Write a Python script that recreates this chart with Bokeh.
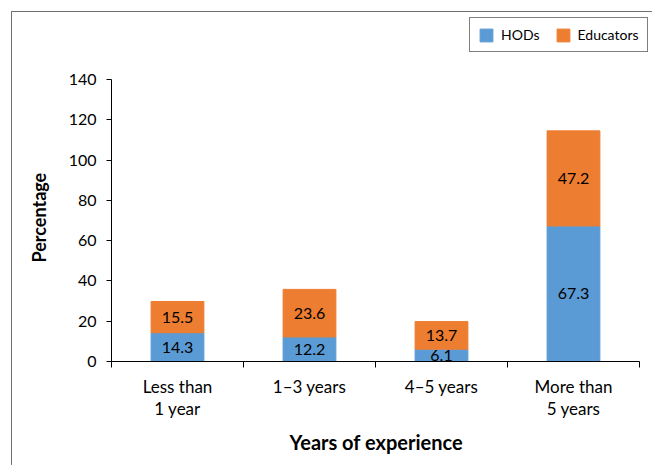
from bokeh.plotting import figure
from bokeh.models import (ColumnDataSource, Range1d, FixedTicker, Legend, LegendItem, LabelSet, Title)
from bokeh.core.properties import value
from bokeh.embed import file_html
from bokeh.resources import INLINE

categories = ["Less than\n1 year", "1\u20133 years", "4\u20135 years", "More than\n5 years"]
hods = [14.3, 12.2, 6.1, 67.3]
educators = [15.5, 23.6, 13.7, 47.2]
y_ticks = [0, 20, 40, 60, 80, 100, 120, 140]

FONT = "Lato"
BLUE = "#5B9BD5"
ORANGE = "#ED7D31"

# layout (px): plot area of the axes 528 x 282, frame extended up/right to hold the legend
AX_W, AX_H = 528, 282
FRAME_W, FRAME_H = 542, 349
n = len(categories)
x_end = n * FRAME_W / AX_W
y_end = y_ticks[-1] * FRAME_H / AX_H

xs = [i + 0.5 for i in range(n)]
tops = [h + e for h, e in zip(hods, educators)]
src = ColumnDataSource(dict(
    x=xs, hods=hods, educators=educators, top=tops,
    hods_mid=[h / 2 for h in hods],
    edu_mid=[h + e / 2 for h, e in zip(hods, educators)],
    hods_lbl=[f"{v:.1f}" for v in hods],
    edu_lbl=[f"{v:.1f}" for v in educators],
))

p = figure(width=641, height=454, output_backend="svg", toolbar_location=None,
           x_range=Range1d(0, x_end), y_range=Range1d(0, y_end),
           min_border_left=99, min_border_top=0, min_border_right=0, min_border_bottom=105,
           styles={"margin-left": "11px", "margin-top": "11px",
                   "border-left": "1px solid #707070", "border-top": "1px solid #707070"})
p.outline_line_color = None
p.xgrid.visible = False
p.ygrid.visible = False

r_h = p.vbar(x="x", bottom=0, top="hods", width=0.4, color=BLUE, source=src)
r_e = p.vbar(x="x", bottom="hods", top="top", width=0.4, color=ORANGE, source=src)

for col_y, col_t in (("hods_mid", "hods_lbl"), ("edu_mid", "edu_lbl")):
    p.add_layout(LabelSet(x="x", y=col_y, text=col_t, source=src,
                          text_align="center", text_baseline="middle",
                          text_font=value(FONT), text_font_size="16px", text_color="black"))

# x axis
xa = p.xaxis[0]
xa.bounds = (0, n)
xa.ticker = FixedTicker(ticks=xs, minor_ticks=list(range(n + 1)))
xa.major_label_overrides = {x: c for x, c in zip(xs, categories)}
xa.major_tick_line_color = None
xa.major_tick_out = 6
xa.minor_tick_out = 6
xa.minor_tick_in = 0
xa.minor_tick_line_color = "black"
xa.major_label_standoff = 8
xa.major_label_text_font = FONT
xa.major_label_text_font_size = "17px"
xa.major_label_text_color = "black"
xa.major_label_text_line_height = 1.08
xa.axis_line_color = "black"

ya = p.yaxis[0]
ya.bounds = (0, y_ticks[-1])
ya.ticker = FixedTicker(ticks=y_ticks)
ya.major_tick_out = 5
ya.major_tick_in = 0
ya.major_label_standoff = 10
ya.major_label_text_font = FONT
ya.major_label_text_font_size = "16px"
ya.major_label_text_color = "black"
ya.axis_line_color = "black"

# axis titles, centred on the drawn parts of the axes
p.add_layout(Title(text="Percentage", align="left", offset=99, vertical_align="middle",
                   standoff=29, text_font=FONT, text_font_size="18px",
                   text_font_style="bold", text_color="black"), "left")
p.add_layout(Title(text="Years of experience", align="left", offset=178, vertical_align="top",
                   standoff=14, text_font=FONT, text_font_size="20px",
                   text_font_style="bold", text_color="black"), "below")

legend = Legend(items=[LegendItem(label="HODs", renderers=[r_h]),
                       LegendItem(label="Educators", renderers=[r_e])],
                orientation="horizontal", location=(358, 309),
                glyph_width=16, glyph_height=16, label_height=16, label_standoff=7,
                spacing=15, padding=8, margin=0,
                label_text_font=FONT, label_text_font_size="14px", label_text_color="black",
                border_line_color="black", border_line_width=1, background_fill_alpha=1)
p.add_layout(legend, "center")

open("out.html", "w").write(file_html(p, INLINE))
